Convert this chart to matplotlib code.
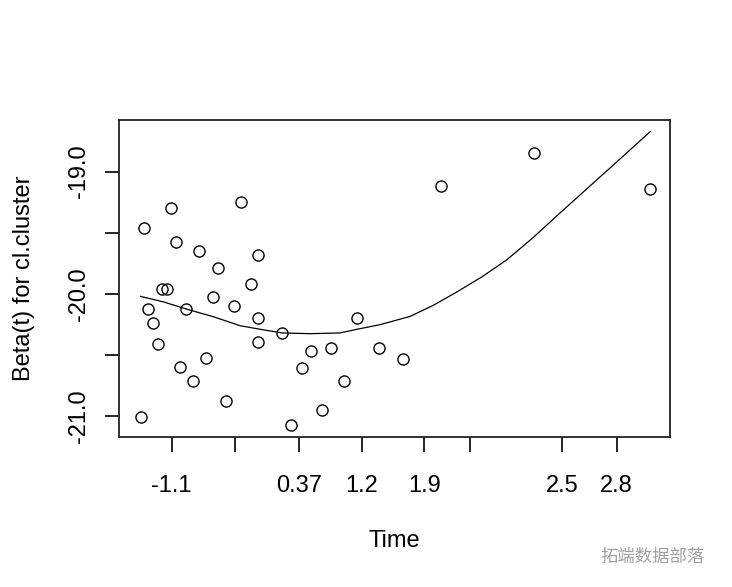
import matplotlib
matplotlib.use('Agg')
import matplotlib.pyplot as plt

plt.rcParams['font.family'] = ['Liberation Sans', 'DejaVu Sans']

# residual points (transformed time, beta(t))
pt_x = [0.045, 0.094, 0.222, 0.103, 0.145, 0.253, 0.180, 0.239, 0.078, 0.087,
        0.170, 0.208, 0.053, 0.122, 0.253, 0.432, 0.061, 0.296, 0.070, 0.253,
        0.349, 0.385, 0.471, 0.515, 0.158, 0.111, 0.332, 0.134, 0.408, 0.194,
        0.368, 0.039, 0.313, 0.584, 0.753, 0.964]
pt_y = [-19.462, -19.299, -19.250, -19.574, -19.650, -19.686, -19.787, -19.923, -19.961, -19.961,
        -20.024, -20.097, -20.124, -20.124, -20.198, -20.198, -20.236, -20.324, -20.410, -20.397,
        -20.471, -20.446, -20.446, -20.534, -20.522, -20.598, -20.609, -20.710, -20.710, -20.873,
        -20.947, -21.010, -21.072, -19.114, -18.850, -19.139]

# smoothed fit
fit_x = [0.039, 0.080, 0.122, 0.171, 0.220, 0.260, 0.296, 0.347, 0.401, 0.432, 0.474,
         0.528, 0.570, 0.613, 0.659, 0.704, 0.751, 0.800, 0.851, 0.904, 0.964]
fit_y = [-20.021, -20.065, -20.124, -20.187, -20.261, -20.293, -20.320, -20.326, -20.320, -20.290, -20.252,
         -20.185, -20.095, -19.985, -19.860, -19.721, -19.542, -19.340, -19.133, -18.918, -18.673]

# axis ticks
xtick_pos = [0.0955, 0.2107, 0.3267, 0.4405, 0.5544, 0.637, 0.8036, 0.903]
xtick_lab = ['-1.1', '', '0.37', '1.2', '1.9', '', '2.5', '2.8']
ytick_pos = [-21.0, -20.5, -20.0, -19.5, -19.0]
ytick_lab = ['-21.0', '', '-20.0', '', '-19.0']

fig = plt.figure(figsize=(7.32, 5.87), dpi=100)
ax = fig.add_axes([0.1626, 0.255, 0.7527, 0.5405])

ax.plot(pt_x, pt_y, 'o', mfc='none', mec='black', ms=8, mew=1.0)
ax.plot(fit_x, fit_y, color='black', lw=0.9)

ax.set_xlim(0, 1)
ax.set_ylim(-21.174, -18.578)

ax.set_xticks(xtick_pos)
ax.set_xticklabels(xtick_lab, fontsize=17)
ax.set_yticks(ytick_pos)
ax.set_yticklabels(ytick_lab, fontsize=17, rotation=90, va='center')
ax.tick_params(axis='x', length=11, width=1.2, pad=16)
ax.tick_params(axis='y', length=10, width=1.2, pad=11)

for s in ax.spines.values():
    s.set_linewidth(1.3)
    s.set_color('#222222')

ax.set_xlabel('Time', fontsize=17, labelpad=24)
ax.set_ylabel('Beta(t) for cl.cluster', fontsize=17, labelpad=24)

# watermark
fig.text(0.963, 0.052, '拓端数据部落', fontsize=12.5, color='#a0a0a0', ha='right', va='center',
         family=['Noto Sans CJK SC', 'DejaVu Sans'])

fig.savefig('out.png', dpi=100)
